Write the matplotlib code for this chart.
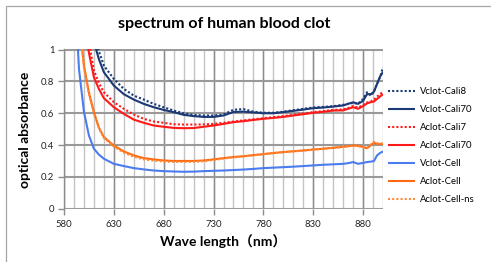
import matplotlib
matplotlib.use("Agg")
import matplotlib.pyplot as plt
import numpy as np
from matplotlib.patches import Rectangle
from matplotlib.ticker import FixedLocator

plt.rcParams['font.family'] = ['Lato', 'Noto Sans CJK JP', 'DejaVu Sans']

wavelength = [590, 595, 600, 605, 610, 615, 620, 630, 640, 650, 660, 670, 680, 690, 700,
              710, 720, 730, 740, 750, 760, 770, 780, 790, 800, 810, 820, 830, 840, 850,
              860, 865, 870, 875, 880, 884, 888, 891, 894, 897, 900]

vclot_cali8 = [2.6, 2.1, 1.7, 1.4, 1.1, 0.99, 0.90, 0.816, 0.753, 0.711, 0.686, 0.659, 0.638, 0.617, 0.600,
               0.590, 0.586, 0.586, 0.592, 0.622, 0.626, 0.610, 0.603, 0.603, 0.610, 0.619, 0.628, 0.636, 0.640, 0.644,
               0.653, 0.660, 0.665, 0.660, 0.690, 0.732, 0.710, 0.740, 0.784, 0.826, 0.889]
vclot_cali70 = [2.5, 2.0, 1.6, 1.3, 1.05, 0.94, 0.858, 0.774, 0.720, 0.686, 0.659, 0.638, 0.621, 0.607, 0.590,
                0.582, 0.577, 0.577, 0.586, 0.608, 0.610, 0.605, 0.600, 0.600, 0.607, 0.615, 0.623, 0.632, 0.636, 0.642,
                0.649, 0.659, 0.669, 0.659, 0.678, 0.720, 0.720, 0.736, 0.784, 0.830, 0.860]
aclot_cali7 = [2.2, 1.7, 1.3, 1.05, 0.868, 0.79, 0.732, 0.670, 0.628, 0.592, 0.565, 0.548, 0.540, 0.531, 0.529,
               0.529, 0.530, 0.533, 0.540, 0.548, 0.555, 0.562, 0.569, 0.575, 0.582, 0.590, 0.598, 0.607, 0.613, 0.621,
               0.624, 0.633, 0.645, 0.636, 0.652, 0.668, 0.675, 0.685, 0.705, 0.720, 0.735]
aclot_cali70 = [2.0, 1.6, 1.2, 0.98, 0.826, 0.753, 0.695, 0.638, 0.596, 0.560, 0.540, 0.523, 0.515, 0.508, 0.506,
                0.507, 0.515, 0.523, 0.533, 0.544, 0.550, 0.558, 0.565, 0.571, 0.577, 0.586, 0.594, 0.603, 0.609, 0.617,
                0.618, 0.628, 0.638, 0.628, 0.645, 0.662, 0.670, 0.674, 0.690, 0.705, 0.720]
vclot_cell = [1.5, 0.88, 0.61, 0.46, 0.377, 0.34, 0.314, 0.282, 0.268, 0.255, 0.247, 0.240, 0.236, 0.234, 0.232,
              0.233, 0.236, 0.238, 0.240, 0.243, 0.246, 0.250, 0.255, 0.258, 0.261, 0.264, 0.268, 0.272, 0.276, 0.279,
              0.282, 0.286, 0.293, 0.282, 0.288, 0.293, 0.296, 0.300, 0.335, 0.350, 0.360]
aclot_cell = [1.8, 1.2, 0.90, 0.73, 0.607, 0.51, 0.45, 0.397, 0.360, 0.335, 0.318, 0.310, 0.303, 0.300, 0.300,
              0.300, 0.303, 0.310, 0.318, 0.325, 0.330, 0.337, 0.343, 0.350, 0.356, 0.361, 0.366, 0.372, 0.377, 0.383,
              0.389, 0.393, 0.397, 0.395, 0.388, 0.380, 0.400, 0.414, 0.408, 0.406, 0.406]
aclot_cell_ns = [1.8, 1.2, 0.89, 0.72, 0.600, 0.505, 0.445, 0.390, 0.352, 0.327, 0.310, 0.302, 0.296, 0.294, 0.294,
                 0.295, 0.298, 0.306, 0.315, 0.322, 0.328, 0.335, 0.342, 0.349, 0.355, 0.360, 0.365, 0.371, 0.376, 0.382,
                 0.388, 0.392, 0.396, 0.394, 0.387, 0.382, 0.405, 0.420, 0.410, 0.412, 0.410]

x_ticks = [580, 630, 680, 730, 780, 830, 880]
x_minor = list(range(590, 901, 10))
y_ticks = [0, 0.2, 0.4, 0.6, 0.8, 1.0]
y_ticklabels = ["0", "0.2", "0.4", "0.6", "0.8", "1"]

series = [
    ("Vclot-Cali8", vclot_cali8, "#1b3a75", "dot"),
    ("Vclot-Cali70", vclot_cali70, "#1b3a75", "solid"),
    ("Aclot-Cali7", aclot_cali7, "#ff1a1a", "dot"),
    ("Aclot-Cali70", aclot_cali70, "#ff1a1a", "solid"),
    ("Vclot-Cell", vclot_cell, "#4a7cf0", "solid"),
    ("Aclot-Cell", aclot_cell, "#ff6a10", "solid"),
    ("Aclot-Cell-ns", aclot_cell_ns, "#ff8a3a", "dot"),
]

W, H = 491, 262
fig = plt.figure(figsize=(W / 100, H / 100), dpi=100)
fig.patch.set_facecolor("white")

# outer chart border
fig.add_artist(Rectangle((6 / W, -0.1), 1.2, (H - 6) / H + 0.1, transform=fig.transFigure,
                         fill=False, edgecolor="#a6a6a6", linewidth=0.9, zorder=-5))

ax = fig.add_axes([64 / W, 1 - 209 / H, 319 / W, 160 / H])
ax.set_xlim(580, 900)
ax.set_ylim(-0.002, 1.004)

# gridlines, drawn from the tick arrays
for xv in x_minor:
    ax.axvline(xv, color="#c4c4c4", linewidth=1.0, zorder=0.5)
for xv in x_ticks:
    ax.axvline(xv, color="#8c8c8c", linewidth=1.0, zorder=0.6)
for yv in y_ticks:
    ax.axhline(yv, color="#9a9a9a", linewidth=1.5, zorder=0.7)

for label, vals, color, style in series:
    ls = (0, (1, 1)) if style == "dot" else "-"
    ax.plot(wavelength, vals, color=color, linestyle=ls, linewidth=1.5, label=label,
            solid_capstyle="butt", dash_capstyle="butt", zorder=2)

ax.xaxis.set_major_locator(FixedLocator(x_ticks))
ax.set_yticks(y_ticks)
ax.set_yticklabels(y_ticklabels)

for s in ["top", "right", "bottom"]:
    ax.spines[s].set_visible(False)
ax.spines["left"].set_color("#8c8c8c")
ax.spines["left"].set_linewidth(1.0)

ax.tick_params(axis="both", which="major", direction="out", length=4, width=1.0,
               color="#8c8c8c", labelsize=6.8, labelcolor="#222222")
ax.tick_params(axis="y", pad=3)
ax.tick_params(axis="x", pad=4)

fig.text(224 / W, 1 - 24 / H, "spectrum of human blood clot", ha="center", va="center",
         fontsize=11.5, fontweight="bold")
fig.text(223 / W, 1 - 241 / H, "Wave length（nm）", ha="center", va="center",
         fontsize=10, fontweight="bold")
fig.text(25 / W, 1 - 130 / H, "optical absorbance", ha="center", va="center",
         rotation=90, fontsize=10, fontweight="bold")

leg = fig.legend(loc="upper left", bbox_to_anchor=(388 / W, 1 - 87 / H),
                 frameon=False, fontsize=6.8, handlelength=2.9, handletextpad=0.5,
                 labelspacing=0.95, borderaxespad=0, borderpad=0)

fig.savefig("out.png", dpi=100)
